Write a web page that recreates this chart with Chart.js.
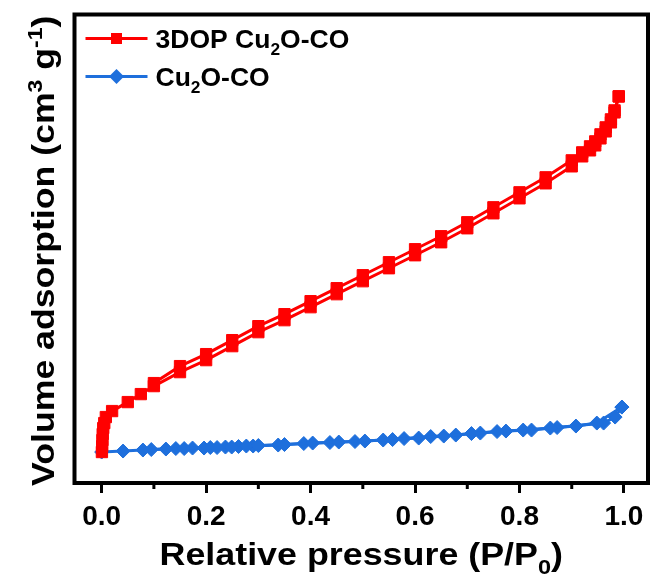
<!DOCTYPE html>
<html>
<head>
<meta charset="utf-8">
<script src="https://cdn.jsdelivr.net/npm/chart.js@4"></script>
<style>
  body { margin: 0; background: #fff; }
</style>
</head>
<body>
<canvas id="isotherm" width="657" height="583"></canvas>
<script>
// N2 isotherms. Volume in arbitrary units (the original has no y tick labels).
const dopAdsP = [0.0005, 0.001, 0.0015, 0.002, 0.003, 0.005, 0.008, 0.02, 0.05, 0.075, 0.1, 0.15, 0.2, 0.25, 0.3, 0.35, 0.4, 0.45, 0.5, 0.55, 0.6, 0.65, 0.7, 0.75, 0.8, 0.85, 0.9, 0.92, 0.935, 0.945, 0.955, 0.965, 0.975, 0.982, 0.99];
const dopAdsV = [31, 37, 43, 49, 55, 60, 66, 72, 81, 89, 97, 111, 123, 137, 151, 163, 176, 189, 202, 215, 228, 241, 255, 270, 285, 300, 317, 327, 333, 338, 345, 352, 361, 371, 387];
const dopDesP = [0.99, 0.982, 0.975, 0.965, 0.955, 0.945, 0.935, 0.92, 0.9, 0.85, 0.8, 0.75, 0.7, 0.65, 0.6, 0.55, 0.5, 0.45, 0.4, 0.35, 0.3, 0.25, 0.2, 0.15, 0.1];
const dopDesV = [387, 373, 364, 356, 349, 342, 337, 331, 323, 306, 291, 276, 261, 247, 234, 221, 208, 195, 182, 169, 157, 143, 129, 117, 100];

const cuAdsP = [0, 0.041, 0.079, 0.123, 0.158, 0.196, 0.221, 0.249, 0.277, 0.3, 0.35, 0.404, 0.454, 0.504, 0.557, 0.607, 0.655, 0.708, 0.757, 0.807, 0.859, 0.908, 0.948, 0.996];
const cuAdsV = [31, 32, 33, 34, 34.5, 35, 35.5, 36, 37, 37.5, 38.5, 40, 41, 42, 43.5, 45, 47, 49.5, 51.5, 53, 55, 57, 60, 76];
const cuDesP = [0.996, 0.983, 0.961, 0.872, 0.823, 0.774, 0.725, 0.678, 0.63, 0.579, 0.539, 0.485, 0.437, 0.387, 0.338, 0.29, 0.262, 0.237, 0.208, 0.174, 0.142, 0.095];
const cuDesV = [76, 66, 60, 55.5, 53, 52, 50, 48, 46.5, 44.5, 43, 41.5, 40.5, 39.5, 38, 37, 36.5, 36, 35.5, 35, 34.5, 33.5];

const xTicks = [0, 0.2, 0.4, 0.6, 0.8, 1.0];
const xMinorTicks = [0.1, 0.3, 0.5, 0.7, 0.9];
const seriesNames = ['3DOP Cu_{2}O-CO', 'Cu_{2}O-CO'];
const xTitle = 'Relative pressure (P/P_{0})';
const yTitle = 'Volume adsorption (cm^{3} g^{-1})';

const red = '#ff0000';
const blue = '#1e6fdc';
const fontFamily = '"Liberation Sans", Arial, sans-serif';

function toPoints(xs, ys) {
    return xs.map((x, i) => ({ x: x, y: ys[i] }));
}

// split "a_{b}c^{d}" into runs: s = 1 subscript, -1 superscript
function parseRich(str) {
    const parts = [];
    const re = /([_^])\{([^}]*)\}/g;
    let last = 0, m;
    while ((m = re.exec(str))) {
        if (m.index > last) parts.push({ t: str.slice(last, m.index), s: 0 });
        parts.push({ t: m[2], s: m[1] === '_' ? 1 : -1 });
        last = re.lastIndex;
    }
    if (last < str.length) parts.push({ t: str.slice(last), s: 0 });
    return parts;
}

function partFont(p, size) {
    return 'bold ' + (p.s ? Math.round(size * 0.65) : size) + 'px ' + fontFamily;
}

function richWidth(ctx, parts, size) {
    let w = 0;
    parts.forEach(p => { ctx.font = partFont(p, size); w += ctx.measureText(p.t).width; });
    return w;
}

// sx stretches the text along its own direction
function drawRich(ctx, str, x, y, size, center, sx) {
    const parts = parseRich(str);
    ctx.save();
    ctx.translate(x, y);
    ctx.scale(sx || 1, 1);
    let cx = center ? -richWidth(ctx, parts, size) / 2 : 0;
    ctx.textBaseline = 'alphabetic';
    ctx.textAlign = 'left';
    parts.forEach(p => {
        ctx.font = partFont(p, size);
        let dy = 0;
        if (p.s === 1) dy = size * 0.28;
        if (p.s === -1) dy = -size * 0.4;
        ctx.fillText(p.t, cx, dy);
        cx += ctx.measureText(p.t).width;
    });
    ctx.restore();
}

const decorPlugin = {
    id: 'decor',
    afterDraw(chart) {
        const ctx = chart.ctx;
        const a = chart.chartArea;
        const xs = chart.scales.x;
        ctx.save();
        ctx.strokeStyle = '#000';
        ctx.fillStyle = '#000';

        // box round the plot
        ctx.lineWidth = 4;
        ctx.strokeRect(a.left, a.top, a.right - a.left, a.bottom - a.top);

        // minor ticks
        ctx.lineWidth = 3;
        xMinorTicks.forEach(v => {
            const px = xs.getPixelForValue(v);
            ctx.beginPath();
            ctx.moveTo(px, a.bottom);
            ctx.lineTo(px, a.bottom + 6);
            ctx.stroke();
        });

        // axis titles
        drawRich(ctx, xTitle, (a.left + a.right) / 2, 565, 32, true, 1.12);
        ctx.save();
        ctx.translate(54, (a.top + a.bottom) / 2 + 2);
        ctx.rotate(-Math.PI / 2);
        drawRich(ctx, yTitle, 0, 0, 31, true, 1.15);
        ctx.restore();

        // legend: line with marker, then label
        const colours = [red, blue];
        const styles = ['rect', 'rectRot'];
        const rows = [38.5, 76.5];
        rows.forEach((ly, i) => {
            ctx.strokeStyle = colours[i];
            ctx.fillStyle = colours[i];
            ctx.lineWidth = 3;
            ctx.beginPath();
            ctx.moveTo(a.left + 11, ly);
            ctx.lineTo(a.left + 73, ly);
            ctx.stroke();
            const mx = a.left + 42;
            ctx.beginPath();
            if (styles[i] === 'rect') {
                ctx.rect(mx - 5.5, ly - 5.5, 11, 11);
            } else {
                ctx.moveTo(mx - 7.5, ly);
                ctx.lineTo(mx, ly - 7.5);
                ctx.lineTo(mx + 7.5, ly);
                ctx.lineTo(mx, ly + 7.5);
                ctx.closePath();
            }
            ctx.fill();
            ctx.fillStyle = '#000';
            drawRich(ctx, seriesNames[i], a.left + 81, ly + 9, 26, false, 1.02);
        });
        ctx.restore();
    }
};

function lineSet(label, data, colour, style, radius, order) {
    return {
        label: label,
        data: data,
        borderColor: colour,
        backgroundColor: colour,
        borderWidth: 3,
        pointStyle: style,
        pointRadius: radius,
        pointHoverRadius: radius,
        pointBorderWidth: 1,
        pointBorderColor: colour,
        pointBackgroundColor: colour,
        tension: 0,
        order: order
    };
}

new Chart(document.getElementById('isotherm'), {
    type: 'line',
    data: {
        datasets: [
            lineSet('3DOP Cu2O-CO ads', toPoints(dopAdsP, dopAdsV), red, 'rect', 8, 0),
            lineSet('3DOP Cu2O-CO des', toPoints(dopDesP, dopDesV), red, 'rect', 8, 0),
            lineSet('Cu2O-CO ads', toPoints(cuAdsP, cuAdsV), blue, 'rectRot', 7, 1),
            lineSet('Cu2O-CO des', toPoints(cuDesP, cuDesV), blue, 'rectRot', 7, 1)
        ]
    },
    options: {
        responsive: false,
        animation: false,
        layout: { padding: { left: 74.5, right: 2, top: 14.5, bottom: 0 } },
        plugins: {
            legend: { display: false },
            tooltip: { enabled: false }
        },
        scales: {
            x: {
                type: 'linear',
                min: -0.052,
                max: 1.046,
                afterBuildTicks: s => { s.ticks = xTicks.map(v => ({ value: v })); },
                afterFit: s => { s.height = 100; },
                border: { display: false },
                grid: {
                    drawOnChartArea: false,
                    drawTicks: true,
                    tickLength: 10,
                    tickWidth: 3,
                    tickColor: '#000'
                },
                ticks: {
                    color: '#000',
                    padding: 7,
                    maxRotation: 0,
                    autoSkip: false,
                    font: { family: fontFamily, weight: 'bold', size: 28 },
                    callback: v => v.toFixed(1)
                }
            },
            y: {
                display: false,
                min: 0,
                max: 469
            }
        }
    },
    plugins: [decorPlugin]
});
</script>
</body>
</html>
